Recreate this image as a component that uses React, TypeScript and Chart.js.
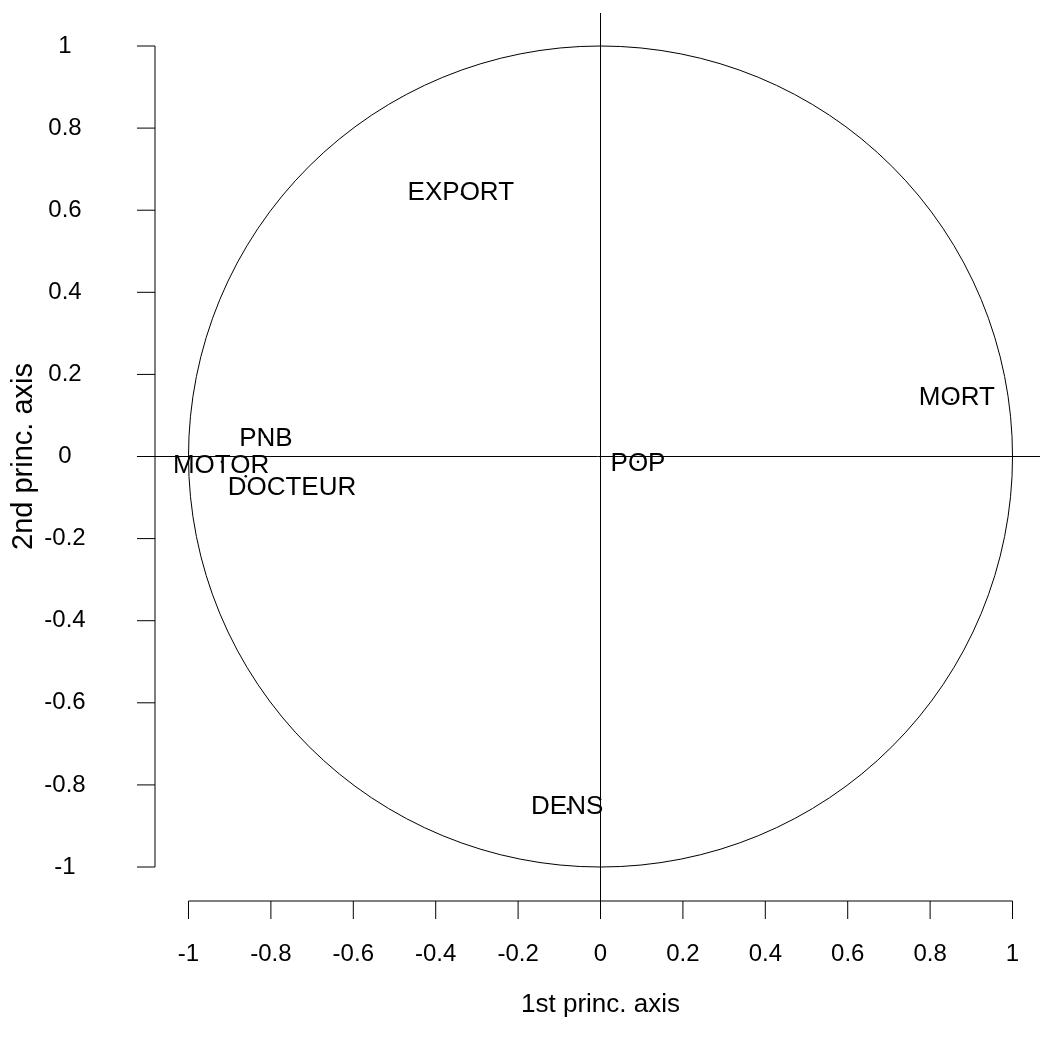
import { useEffect, useRef } from "react";
import { Chart, registerables } from "chart.js";

Chart.register(...registerables);

// Variables projected on the first two principal axes (correlation circle)
const variables = ["EXPORT", "MORT", "POP", "DENS", "PNB", "MOTOR", "DOCTEUR"];
const axis1 = [-0.336, 0.853, 0.091, -0.079, -0.814, -0.919, -0.861];
const axis2 = [0.639, 0.138, -0.013, -0.859, 0.048, -0.013, -0.048];
// Where each label is centred
const labelAxis1 = [-0.339, 0.865, 0.091, -0.081, -0.812, -0.921, -0.749];
const labelAxis2 = [0.644, 0.145, -0.016, -0.851, 0.045, -0.021, -0.074];

const tickValues = [-1, -0.8, -0.6, -0.4, -0.2, 0, 0.2, 0.4, 0.6, 0.8, 1];
const tickLabels = ["-1", "-0.8", "-0.6", "-0.4", "-0.2", "0", "0.2", "0.4", "0.6", "0.8", "1"];
const xTitle = "1st princ. axis";
const yTitle = "2nd princ. axis";

const FAMILY = '"Liberation Sans", Arial, Helvetica, sans-serif';

const corPlugin = {
  id: "corcircle",
  beforeDatasetsDraw(chart: any) {
    const { ctx, chartArea, scales } = chart;
    const xs = scales.x;
    const ys = scales.y;
    const cx = xs.getPixelForValue(0);
    const cy = ys.getPixelForValue(0);
    const rx = xs.getPixelForValue(1) - cx;
    const ry = cy - ys.getPixelForValue(1);
    ctx.save();
    ctx.strokeStyle = "#000";
    ctx.lineWidth = 1;
    // unit circle
    ctx.beginPath();
    ctx.ellipse(cx, cy, rx, ry, 0, 0, Math.PI * 2);
    ctx.stroke();
    // reference lines at 0
    ctx.beginPath();
    ctx.moveTo(chartArea.left, cy);
    ctx.lineTo(1040, cy);
    ctx.moveTo(cx, chartArea.top);
    ctx.lineTo(cx, chartArea.bottom);
    ctx.stroke();

    // R-style axes
    const tick = 18;
    const bottomY = chartArea.bottom;
    const leftX = chartArea.left;
    const x0 = xs.getPixelForValue(tickValues[0]);
    const x1 = xs.getPixelForValue(tickValues[tickValues.length - 1]);
    const y0 = ys.getPixelForValue(tickValues[0]);
    const y1 = ys.getPixelForValue(tickValues[tickValues.length - 1]);
    ctx.beginPath();
    ctx.moveTo(x0, bottomY);
    ctx.lineTo(x1, bottomY);
    ctx.moveTo(leftX, y0);
    ctx.lineTo(leftX, y1);
    tickValues.forEach((v) => {
      const px = xs.getPixelForValue(v);
      ctx.moveTo(px, bottomY);
      ctx.lineTo(px, bottomY + tick);
      const py = ys.getPixelForValue(v);
      ctx.moveTo(leftX, py);
      ctx.lineTo(leftX - tick, py);
    });
    ctx.stroke();

    ctx.fillStyle = "#000";
    ctx.font = "24px " + FAMILY;
    ctx.textAlign = "center";
    ctx.textBaseline = "middle";
    tickValues.forEach((v, i) => {
      ctx.fillText(tickLabels[i], xs.getPixelForValue(v), bottomY + 53);
      ctx.fillText(tickLabels[i], 65, ys.getPixelForValue(v));
    });
    ctx.font = "26px " + FAMILY;
    ctx.fillText(xTitle, cx, bottomY + 104);
    ctx.save();
    ctx.font = "29px " + FAMILY;
    ctx.translate(24, cy);
    ctx.rotate(-Math.PI / 2);
    ctx.fillText(yTitle, 0, 0);
    ctx.restore();
    ctx.restore();
  },
  afterDatasetsDraw(chart: any) {
    const { ctx, scales } = chart;
    ctx.save();
    ctx.fillStyle = "#000";
    ctx.font = "26px " + FAMILY;
    ctx.textAlign = "center";
    ctx.textBaseline = "middle";
    variables.forEach((name, i) => {
      ctx.fillText(
        name,
        scales.x.getPixelForValue(labelAxis1[i]),
        scales.y.getPixelForValue(labelAxis2[i]) + 1
      );
    });
    ctx.restore();
  },
};

export default function App() {
  const ref = useRef<HTMLCanvasElement | null>(null);
  useEffect(() => {
    document.body.style.margin = "0";
    document.body.style.overflow = "hidden";
    const canvas = ref.current;
    if (!canvas) return;
    const chart = new Chart(canvas, {
      type: "scatter",
      data: {
        datasets: [
          {
            data: axis1.map((x, i) => ({ x, y: axis2[i] })),
            pointRadius: 1.3,
            pointBackgroundColor: "#000",
            pointBorderColor: "#000",
            pointBorderWidth: 0,
            clip: false,
          },
        ],
      },
      options: {
        animation: false,
        responsive: false,
        devicePixelRatio: 1,
        layout: { autoPadding: false, padding: { left: 155, right: 0, top: 13, bottom: 150 } },
        plugins: { legend: { display: false }, tooltip: { enabled: false } },
        scales: {
          x: { type: "linear", min: -1.0813, max: 1.0667, display: false },
          y: { type: "linear", min: -1.0828, max: 1.0804, display: false },
        },
      },
      plugins: [corPlugin],
    });
    return () => chart.destroy();
  }, []);
  return (
    <div style={{ width: 1040, height: 1051, background: "#fff" }}>
      <canvas ref={ref} width={1040} height={1051} style={{ display: "block" }} />
    </div>
  );
}
